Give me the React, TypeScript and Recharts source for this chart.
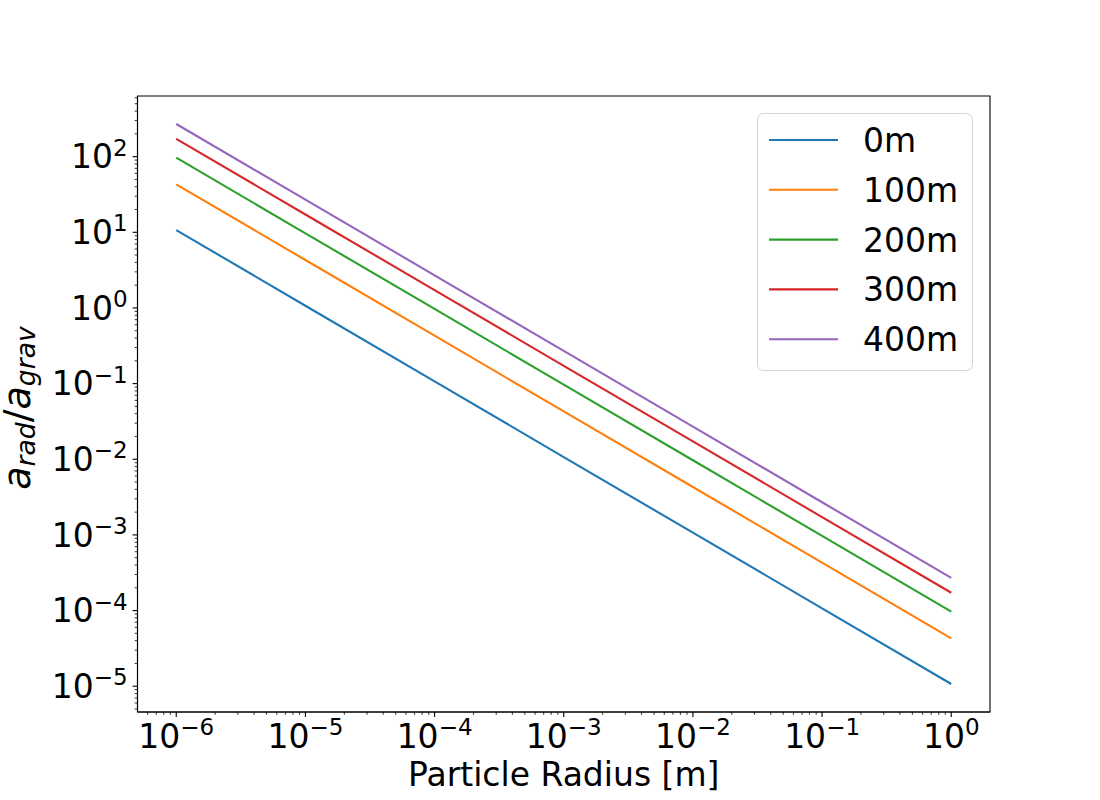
import React from 'react';
import { LineChart, Line, XAxis, YAxis, ReferenceArea, Legend } from 'recharts';

// ---- data ----
const RADIUS = [1e-6, 1e-5, 1e-4, 1e-3, 1e-2, 1e-1, 1];
const RATIO_0M = [10.7, 1.07, 0.107, 0.0107, 0.00107, 0.000107, 0.0000107];
const RATIO_100M = [43, 4.3, 0.43, 0.043, 0.0043, 0.00043, 0.000043];
const RATIO_200M = [97, 9.7, 0.97, 0.097, 0.0097, 0.00097, 0.000097];
const RATIO_300M = [172, 17.2, 1.72, 0.172, 0.0172, 0.00172, 0.000172];
const RATIO_400M = [270, 27, 2.7, 0.27, 0.027, 0.0027, 0.00027];

const SERIES_KEYS = ['s0', 's100', 's200', 's300', 's400'];
const SERIES_NAMES = ['0m', '100m', '200m', '300m', '400m'];
const SERIES_COLORS = ['#1f77b4', '#ff7f0e', '#2ca02c', '#d62728', '#9467bd'];
const SERIES_VALUES = [RATIO_0M, RATIO_100M, RATIO_200M, RATIO_300M, RATIO_400M];

const X_MAJOR_TICKS = [1e-6, 1e-5, 1e-4, 1e-3, 1e-2, 1e-1, 1];
const X_TICK_EXPONENTS = ['−6', '−5', '−4', '−3', '−2', '−1', '0'];
const Y_MAJOR_TICKS = [1e-5, 1e-4, 1e-3, 1e-2, 1e-1, 1, 10, 100];
const Y_TICK_EXPONENTS = ['−5', '−4', '−3', '−2', '−1', '0', '1', '2'];
const MINOR_MULTIPLIERS = [2, 3, 4, 5, 6, 7, 8, 9];

const X_LABEL = 'Particle Radius [m]';

const X_DOMAIN: [number, number] = [Math.pow(10, -6.3), Math.pow(10, 0.3)];
const Y_DOMAIN: [number, number] = [Math.pow(10, -5.3407), Math.pow(10, 2.8015)];

const FONT = '"DejaVu Sans", sans-serif';

const withMinors = (majors: number[], domain: [number, number]) => {
  const out: number[] = [];
  const decades = [majors[0] / 10, ...majors];
  decades.forEach((d) => {
    MINOR_MULTIPLIERS.forEach((m) => {
      const v = d * m;
      if (v >= domain[0] && v <= domain[1]) out.push(v);
    });
  });
  majors.forEach((v) => out.push(v));
  return out.sort((a, b) => a - b);
};

const X_TICKS = withMinors(X_MAJOR_TICKS, X_DOMAIN);
const Y_TICKS = withMinors(Y_MAJOR_TICKS, Y_DOMAIN);

const majorIndex = (majors: number[], v: number) =>
  majors.findIndex((m) => Math.abs(Math.log10(m) - Math.log10(v)) < 1e-6);

const data = RADIUS.map((r, i) => {
  const row: Record<string, number> = { x: r };
  SERIES_KEYS.forEach((k, s) => {
    row[k] = SERIES_VALUES[s][i];
  });
  return row;
});

const XTick = (props: any) => {
  const { x, y, payload } = props;
  const idx = majorIndex(X_MAJOR_TICKS, payload.value);
  const major = idx >= 0;
  return (
    <g>
      <line x1={x} x2={x} y1={y} y2={y + (major ? 4.9 : 2.8)} stroke="#000" strokeWidth={major ? 1.1 : 0.8} />
      {major && (
        <text x={x} y={y + 36} textAnchor="middle" fontFamily={FONT} fontSize={33} fill="#000">
          <tspan>10</tspan>
          <tspan fontSize={23} dy={-13}>{X_TICK_EXPONENTS[idx]}</tspan>
        </text>
      )}
    </g>
  );
};

const YTick = (props: any) => {
  const { x, y, payload } = props;
  const idx = majorIndex(Y_MAJOR_TICKS, payload.value);
  const major = idx >= 0;
  return (
    <g>
      <line x1={x} x2={x - (major ? 4.9 : 2.8)} y1={y} y2={y} stroke="#000" strokeWidth={major ? 1.1 : 0.8} />
      {major && (
        <text x={x - 9.8} y={y + 11.7} textAnchor="end" fontFamily={FONT} fontSize={33} fill="#000">
          <tspan>10</tspan>
          <tspan fontSize={23} dy={-12.5}>{Y_TICK_EXPONENTS[idx]}</tspan>
        </text>
      )}
    </g>
  );
};

const XLabel = (props: any) => {
  const vb = props.viewBox || {};
  return (
    <text x={vb.x + vb.width / 2} y={vb.y + 74} textAnchor="middle" fontFamily={FONT} fontSize={33} fill="#000">
      {X_LABEL}
    </text>
  );
};

const YLabel = (props: any) => {
  const vb = props.viewBox || {};
  const cx = vb.x + 29.5;
  const cy = vb.y + vb.height / 2 + 4;
  return (
    <text
      transform={`translate(${cx},${cy}) rotate(-90)`}
      textAnchor="middle"
      fontFamily={FONT}
      fontSize={38}
      fill="#000"
    >
      <tspan fontStyle="italic">a</tspan>
      <tspan fontStyle="italic" fontSize={26.6} dy={5}>rad</tspan>
      <tspan fontSize={38} dy={-5}>/</tspan>
      <tspan fontStyle="italic" fontSize={38}>a</tspan>
      <tspan fontStyle="italic" fontSize={26.6} dy={5}>grav</tspan>
    </text>
  );
};

const LegendBox = () => (
  <svg width={216} height={258} style={{ display: 'block' }}>
    <rect x={0.5} y={0.5} width={215} height={257} rx={6} ry={6} fill="rgba(255,255,255,0.8)" stroke="#d3d3d3" strokeWidth={1} />
    {SERIES_NAMES.map((name, i) => {
      const cy = 27 + i * 49.8;
      return (
        <g key={name}>
          <line x1={12} x2={81} y1={cy} y2={cy} stroke={SERIES_COLORS[i]} strokeWidth={2.1} />
          <text x={106} y={cy + 12} fontFamily={FONT} fontSize={33} fill="#000">
            {name}
          </text>
        </g>
      );
    })}
  </svg>
);

export default function App() {
  return (
    <div style={{ position: 'absolute', left: 0, top: 0, width: 1100, height: 800, background: '#fff' }}>
      <LineChart width={1100} height={800} data={data} margin={{ top: 96, right: 110, bottom: 0, left: 0 }}>
        <XAxis
          dataKey="x"
          type="number"
          scale="log"
          domain={X_DOMAIN}
          allowDataOverflow
          ticks={X_TICKS}
          interval={0}
          tickSize={0}
          tickMargin={0}
          tickLine={false}
          axisLine={{ stroke: '#000', strokeWidth: 1.1 }}
          tick={XTick}
          height={88}
          label={XLabel}
        />
        <YAxis
          type="number"
          scale="log"
          domain={Y_DOMAIN}
          allowDataOverflow
          ticks={Y_TICKS}
          interval={0}
          tickSize={0}
          tickMargin={0}
          tickLine={false}
          axisLine={{ stroke: '#000', strokeWidth: 1.1 }}
          tick={YTick}
          width={137.5}
          label={YLabel}
        />
        <ReferenceArea
          x1={X_DOMAIN[0]}
          x2={X_DOMAIN[1]}
          y1={Y_DOMAIN[0]}
          y2={Y_DOMAIN[1]}
          fill="none"
          stroke="#000"
          strokeWidth={1.1}
          ifOverflow="visible"
        />
        {SERIES_KEYS.map((k, i) => (
          <Line
            key={k}
            type="linear"
            dataKey={k}
            name={SERIES_NAMES[i]}
            stroke={SERIES_COLORS[i]}
            strokeWidth={2.1}
            dot={false}
            activeDot={false}
            isAnimationActive={false}
          />
        ))}
        <Legend
          layout="vertical"
          align="center"
          verticalAlign="middle"
          content={LegendBox}
          wrapperStyle={{ position: 'absolute', left: 757, top: 113, right: 'auto', bottom: 'auto', width: 216, height: 258, margin: 0, padding: 0 }}
        />
      </LineChart>
    </div>
  );
}
